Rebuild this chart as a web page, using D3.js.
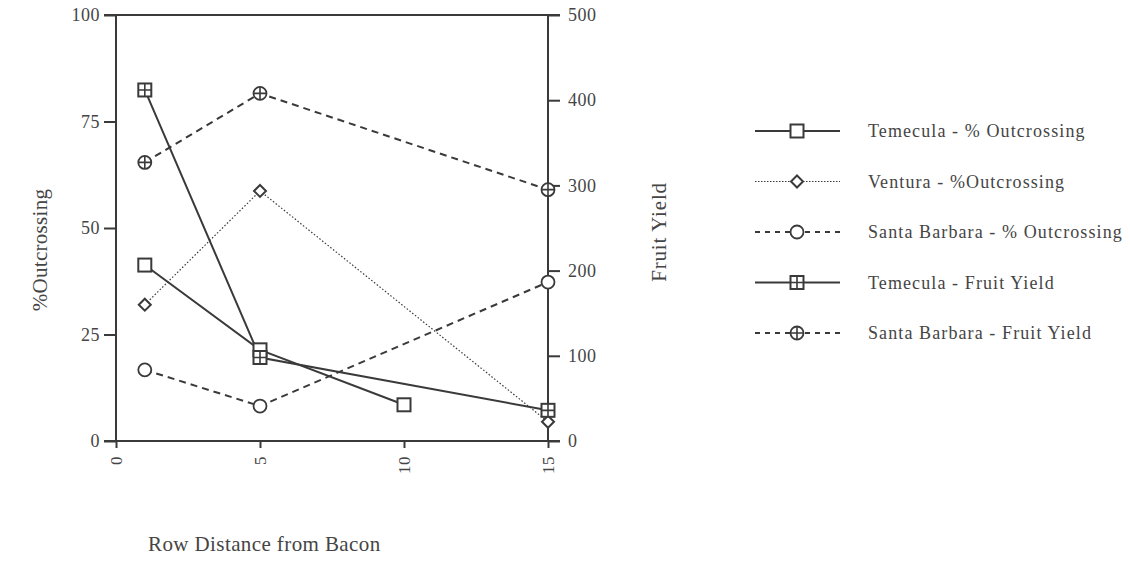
<!DOCTYPE html>
<html>
<head>
<meta charset="utf-8">
<script src="https://cdn.jsdelivr.net/npm/d3@7"></script>
<style>
    body { margin: 0; background: #fff; }
    text { font-family: "Liberation Serif", "DejaVu Serif", serif; fill: #3a3a3a; }
</style>
</head>
<body>
<div id="chart"></div>
<script>
// series
const xTicks = [0, 5, 10, 15];
const leftTicks = [0, 25, 50, 75, 100];
const rightTicks = [0, 100, 200, 300, 400, 500];

const temeculaOutX = [1, 5, 10];
const temeculaOut = [41.3, 21.4, 8.5];

const venturaOutX = [1, 5, 15];
const venturaOut = [32, 58.7, 4.5];

const sbOutX = [1, 5, 15];
const sbOut = [16.7, 8.2, 37.3];

const temeculaYieldX = [1, 5, 15];
const temeculaYield = [412, 98, 36];

const sbYieldX = [1, 5, 15];
const sbYield = [327, 408, 295];

const legendLabels = [
    "Temecula - % Outcrossing",
    "Ventura - %Outcrossing",
    "Santa Barbara - % Outcrossing",
    "Temecula - Fruit Yield",
    "Santa Barbara - Fruit Yield"
];

const ink = "#3a3a3a";
const textInk = "#454545";

let margin = {top: 15, left: 116},
    width = 548 - 116,
    height = 441 - 15;

let svg = d3.select("#chart").append("svg")
    .attr("width", 1130)
    .attr("height", 580);

let g = svg.append("g")
    .attr("transform", "translate(" + margin.left + "," + margin.top + ")");

const x = d3.scaleLinear().domain([0, 15]).range([0, width]);
const yL = d3.scaleLinear().domain([0, 100]).range([height, 0]);
const yR = d3.scaleLinear().domain([0, 500]).range([height, 0]);

// frame lines top / bottom (they run past the axes like the ticks)
g.append("line").attr("x1", -12).attr("x2", width + 12).attr("y1", 0).attr("y2", 0)
    .attr("stroke", ink).attr("stroke-width", 2);
g.append("line").attr("x1", -12).attr("x2", width + 12).attr("y1", height).attr("y2", height)
    .attr("stroke", ink).attr("stroke-width", 2);

// left axis
let axL = g.append("g")
    .call(d3.axisLeft(yL).tickValues(leftTicks).tickSize(12).tickPadding(4));
// right axis
let axR = g.append("g")
    .attr("transform", `translate(${width},0)`)
    .call(d3.axisRight(yR).tickValues(rightTicks).tickSize(12).tickPadding(8));
// x axis
let axX = g.append("g")
    .attr("transform", `translate(0,${height})`)
    .call(d3.axisBottom(x).tickValues(xTicks).tickSize(7).tickSizeOuter(0));

[axL, axR, axX].forEach(a => {
    a.select(".domain").attr("stroke", ink).attr("stroke-width", 2);
    a.selectAll(".tick line").attr("stroke", ink).attr("stroke-width", 2);
    a.selectAll("text").attr("font-size", 18).style("fill", textInk)
        .style("letter-spacing", "0.5px")
        .attr("font-family", "Liberation Serif");
});
axL.select(".domain").attr("d", `M0,0V${height}`);
axR.select(".domain").attr("d", `M0,0V${height}`);
axX.select(".domain").remove();

axX.selectAll("text")
    .attr("transform", "rotate(-90)")
    .attr("x", -15)
    .attr("y", 0)
    .attr("dy", "0.35em")
    .attr("font-size", 17)
    .style("text-anchor", "end");

// series definitions
const series = [
    {xs: temeculaOutX, ys: temeculaOut, scale: yL, dash: null, w: 2, marker: "square"},
    {xs: venturaOutX, ys: venturaOut, scale: yL, dash: "1.5 2", w: 1.2, marker: "diamond"},
    {xs: sbOutX, ys: sbOut, scale: yL, dash: "7 5", w: 2, marker: "circle"},
    {xs: temeculaYieldX, ys: temeculaYield, scale: yR, dash: null, w: 2, marker: "squarePlus"},
    {xs: sbYieldX, ys: sbYield, scale: yR, dash: "7 5", w: 2, marker: "circlePlus"}
];

function drawMarker(sel, type) {
    sel.each(function() {
        let m = d3.select(this);
        if (type === "square" || type === "squarePlus") {
            m.append("rect").attr("x", -6.5).attr("y", -6.5).attr("width", 13).attr("height", 13)
                .attr("fill", "#fff").attr("stroke", ink).attr("stroke-width", 2);
            if (type === "squarePlus") {
                m.append("path").attr("d", "M-6.5,0H6.5M0,-6.5V6.5")
                    .attr("stroke", ink).attr("stroke-width", 1.6);
            }
        } else if (type === "diamond") {
            m.append("path").attr("d", "M0,-6L6,0L0,6L-6,0Z")
                .attr("fill", "#fff").attr("stroke", ink).attr("stroke-width", 2);
        } else {
            m.append("circle").attr("r", 6.5)
                .attr("fill", "#fff").attr("stroke", ink).attr("stroke-width", 1.8);
            if (type === "circlePlus") {
                m.append("path").attr("d", "M-6.5,0H6.5M0,-6.5V6.5")
                    .attr("stroke", ink).attr("stroke-width", 1.6);
            }
        }
    });
}

series.forEach(s => {
    let pts = s.xs.map((v, i) => [x(v), s.scale(s.ys[i])]);
    g.append("path")
        .attr("d", d3.line()(pts))
        .attr("fill", "none")
        .attr("stroke", ink)
        .attr("stroke-width", s.w)
        .attr("stroke-dasharray", s.dash);
});
series.forEach(s => {
    let pts = s.xs.map((v, i) => [x(v), s.scale(s.ys[i])]);
    g.selectAll(null).data(pts).join("g")
        .attr("transform", d => `translate(${d[0]},${d[1]})`)
        .call(sel => drawMarker(sel, s.marker));
});

// axis titles
svg.append("text")
    .attr("transform", "translate(47,250) rotate(-90)")
    .attr("text-anchor", "middle")
    .attr("font-size", 21)
    .style("fill", textInk)
    .style("letter-spacing", "0.3px")
    .text("%Outcrossing");

svg.append("text")
    .attr("transform", "translate(666,232) rotate(-90)")
    .attr("text-anchor", "middle")
    .attr("font-size", 21)
    .style("fill", textInk)
    .style("letter-spacing", "0.8px")
    .text("Fruit Yield");

svg.append("text")
    .attr("x", 148)
    .attr("y", 551)
    .attr("font-size", 21)
    .style("fill", textInk)
    .style("letter-spacing", "0.4px")
    .text("Row Distance from Bacon");

// legend
let legend = svg.append("g").attr("transform", "translate(755,131)");
let rows = legend.selectAll("g").data(series).join("g")
    .attr("transform", (d, i) => `translate(0,${i * 50.5})`);
rows.append("line")
    .attr("x1", 0).attr("x2", 85).attr("y1", 0).attr("y2", 0)
    .attr("stroke", ink)
    .attr("stroke-width", d => d.w)
    .attr("stroke-dasharray", d => d.dash ? (d.dash === "7 5" ? "5 5" : "1.5 1.5") : null);
rows.each(function(d) {
    d3.select(this).append("g").attr("transform", "translate(42,0)").call(sel => drawMarker(sel, d.marker));
});
rows.append("text")
    .attr("x", 113)
    .attr("y", 0)
    .attr("dy", "0.35em")
    .attr("font-size", 18)
    .style("fill", textInk)
    .style("letter-spacing", "1.1px")
    .text((d, i) => legendLabels[i]);
</script>
</body>
</html>
